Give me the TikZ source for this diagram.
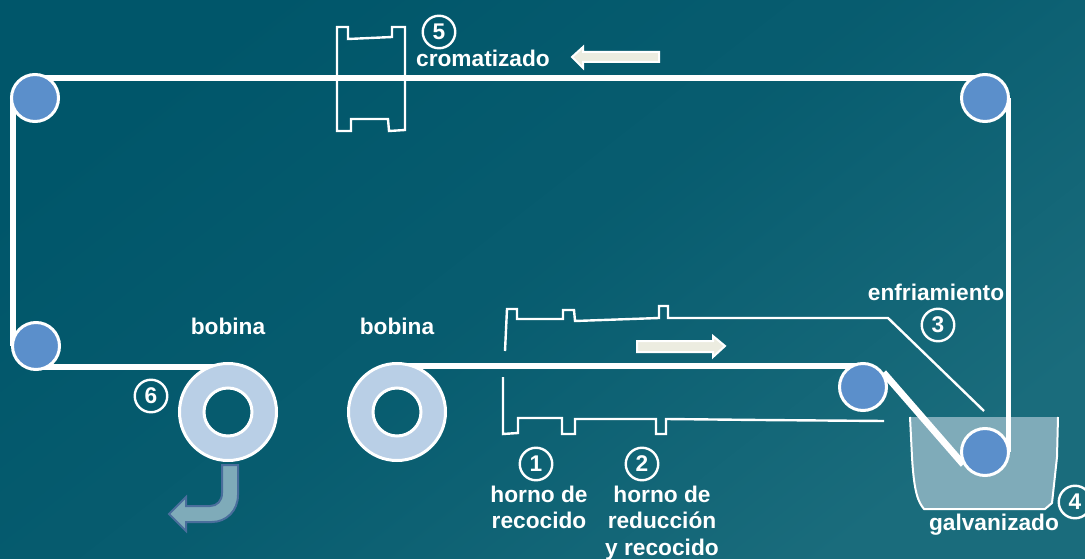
\documentclass[tikz,border=0pt]{standalone}
\usepackage{fontspec}
\setmainfont{Liberation Sans}
\definecolor{bgA}{HTML}{00566A}
\definecolor{bgB}{HTML}{1A6C7C}
\definecolor{rollerblue}{HTML}{5B8FCB}
\definecolor{coilblue}{HTML}{B9CFE6}
\definecolor{bathblue}{HTML}{7FABB9}
\definecolor{cream}{HTML}{ECECE0}
\definecolor{arrowedge}{HTML}{4A6E9C}
\pgfdeclarelayer{backlayer}
\pgfdeclarelayer{beltlayer}
\pgfsetlayers{backlayer,beltlayer,main}
\tikzset{
  belt/.style={draw=white,line width=5.2pt},
  thinline/.style={draw=white,line width=2.4pt,line join=miter},
  roller/.style={circle,draw=white,line width=3pt,fill=rollerblue,minimum size=47pt,inner sep=0pt},
  coilouter/.style={circle,draw=white,line width=3pt,minimum size=97pt,inner sep=0pt},
  coilinner/.style={circle,draw=white,line width=3pt,minimum size=48pt,inner sep=0pt},
  lbl/.style={text=white,inner sep=0pt,align=center,font=\fontsize{22.7}{26.3}\selectfont\bfseries},
  num/.style={circle,draw=white,line width=2.4pt,minimum size=32.5pt,inner sep=0pt,text=white,font=\fontsize{22.7}{25}\selectfont\bfseries},
  flowarrow/.style={draw=white,line width=2pt,fill=cream,line join=miter}
}
\begin{document}
\begin{tikzpicture}[x=1pt,y=-1pt]
\useasboundingbox (0,0) rectangle (1085,559);
% coil rings
\fill[coilblue,even odd rule] (228,412) circle (49) (228,412) circle (25);
\fill[coilblue,even odd rule] (397,412) circle (49) (397,412) circle (25);
% rollers and coils
\node[coilouter] (coilA) at (228,412) {};
\node[coilinner] (holeA) at (228,412) {};
\node[coilouter] (coilB) at (397,412) {};
\node[coilinner] (holeB) at (397,412) {};
\node[roller] (r1) at (35,98) {};
\node[roller] (r2) at (985,98) {};
\node[roller] (r6) at (36,346) {};
\node[roller] (r3) at (863,387) {};
\node[roller] (r4) at (985,452) {};
\begin{pgfonlayer}{backlayer}
\shade[shading=axis,bottom color=bgB,top color=bgA,middle color=bgA!70!bgB,shading angle=38] (0,0) rectangle (1085,559);
% bath
\fill[bathblue] (910,417) -- (1058,417) -- (1057,457) -- (1052,503) -- (1045,509) -- (924,509) .. controls (918,502) and (914,492) .. (912,457) -- cycle;
\draw[thinline,line width=2pt] (910,417) -- (912,457) .. controls (914,492) and (918,502) .. (924,509) -- (1045,509) -- (1052,503) -- (1057,457) -- (1058,417);
% furnaces
\draw[thinline] (505,351) -- (507,309) -- (517,309) -- (517,319) -- (563,319) -- (563,310) -- (574,310) -- (575,321) -- (659,318) -- (659,306) -- (668,306) -- (668,318) -- (888,318) -- (984,411);
\draw[thinline] (503,377) -- (503,434) -- (518,433) -- (518,418) -- (562,418) -- (562,434) -- (575,434) -- (575,419) -- (656,419) -- (656,434) -- (666,434) -- (666,419) -- (760,420) -- (884,421);
\draw[thinline] (337,70) -- (337,27) -- (348,27) -- (348,39) -- (392,37) -- (392,27) -- (405,27) -- (405,130) -- (389,131) -- (388,119) -- (351,119) -- (351,131) -- (337,131) -- cycle;
\end{pgfonlayer}
% belt
\begin{pgfonlayer}{beltlayer}
\draw[belt] (coilB.67 -| coilB) -- (coilB.67 -| r3);
\draw[belt,line width=6.8pt] (r3.35) -- (r4.210);
\draw[belt] (r4.-20 |- r4) -- (r4.-20 |- r2);
\draw[belt] (r2.127 -| r2) -- (r2.127 -| r1);
\draw[belt] (r1.208 |- r1) -- (r1.208 |- r6);
\draw[belt] (coilA.116 -| r6) -- (coilA.116 -| coilA);
\end{pgfonlayer}
% flow arrows
\draw[flowarrow] (659,52) -- (583,52) -- (583,47) -- (572,57) -- (583,68) -- (583,62) -- (659,62) -- cycle;
\draw[flowarrow] (637,341) -- (713,341) -- (713,336) -- (725,346) -- (713,357) -- (713,352) -- (637,352) -- cycle;
\draw[draw=arrowedge,line width=2pt,fill=bathblue,line join=miter] (222,465) -- (238,465) -- (238,495) .. controls (238,511) and (226,522) .. (212,522) -- (186,522) -- (186,531) -- (169,514) -- (186,497) -- (186,506) -- (210,506) .. controls (217,506) and (222,501) .. (222,493) -- cycle;
% labels
\node[lbl] (lcrom) at (483,58) {cromatizado};
\node[lbl] (lbobA) at (228,326) {bobina};
\node[lbl] (lbobB) at (397,326) {bobina};
\node[lbl] (lenf) at (936,292) {enfriamiento};
\node[lbl] (lgalv) at (994,525) {galvanizado};
\node[lbl] (lhorno) at (539,507.5) {horno de\\recocido};
\node[lbl] (lred) at (662,523) {horno de\\reducción\\y recocido};
\node[num] (n5) at (439,32) {5};
\node[num] (n1) at (536,464) {1};
\node[num] (n2) at (642,464) {2};
\node[num] (n3) at (938,325) {3};
\node[num] (n4) at (1075,502) {4};
\node[num] (n6) at (151,396) {6};
\end{tikzpicture}
\end{document}
